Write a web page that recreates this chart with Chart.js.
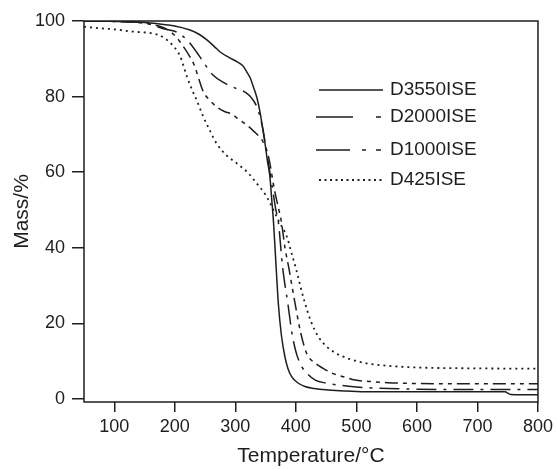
<!DOCTYPE html>
<html>
<head>
<meta charset="utf-8">
<title>TGA curves</title>
<style>
  html, body { margin: 0; padding: 0; background: #fff; }
  #wrap { width: 557px; height: 469px; position: relative; }
</style>
<script src="https://cdn.jsdelivr.net/npm/chart.js"></script>
</head>
<body>
<div id="wrap"><canvas id="tga"></canvas></div>
<script>
// values
const seriesNames = ['D3550ISE', 'D2000ISE', 'D1000ISE', 'D425ISE'];

const tempD3550 = [50, 100, 150, 175, 200, 225, 240, 253, 265, 275, 290, 303, 312, 319, 325, 330, 336, 341, 345, 349, 353, 357, 360, 363, 367, 371, 376, 382, 387, 393, 403, 415, 430, 453, 480, 514, 600, 700, 745, 755, 800];
const massD3550 = [100, 99.9, 99.6, 99.2, 98.7, 97.6, 96.5, 95, 93.3, 91.8, 90.3, 89.2, 88.2, 86.5, 84.8, 82.5, 79.5, 75.7, 71.8, 67.7, 63, 59, 53, 47, 36, 25.4, 17, 11.1, 8, 5.9, 4.3, 3.3, 2.8, 2.4, 2.1, 1.9, 1.9, 1.9, 1.9, 1.2, 1.1];

const tempD2000 = [50, 100, 150, 180, 204, 220, 235, 247, 263, 283, 304, 318, 327, 335, 341, 346, 350, 356, 362, 367, 371, 378, 387, 394, 401, 410, 420, 432, 450, 470, 500, 526, 600, 700, 800];
const massD2000 = [100, 99.9, 99.5, 98, 97, 95, 92, 89.2, 85.7, 83.5, 82, 81, 79.6, 77.5, 74.6, 71, 67, 61, 55, 50, 47, 35, 25, 17, 12, 8.5, 6.5, 5, 4.2, 3.7, 3.2, 2.9, 2.6, 2.5, 2.5];

const tempD1000 = [50, 100, 150, 175, 190, 202, 214, 224, 233, 240, 247, 258, 269, 283, 295, 303, 318, 332, 340, 346, 355, 365, 372, 376, 382, 388, 399, 408, 418, 432, 445, 459, 480, 498, 525, 552, 600, 700, 800];
const massD1000 = [100, 99.9, 99.4, 98.6, 97.5, 95.8, 93.3, 90.8, 88, 84.5, 81.3, 79, 77.3, 76, 75.3, 74.3, 72.6, 70.6, 69.3, 68, 64, 55, 50, 47, 40, 35, 25, 17.5, 12, 9.5, 8.1, 6.9, 5.8, 5, 4.6, 4.3, 4.1, 4.0, 4.0];

const tempD425 = [50, 75, 100, 130, 160, 175, 187, 198, 209, 220, 228, 236, 247, 258, 269, 285, 302, 320, 335, 350, 360, 372, 385, 393, 401, 408, 415, 425, 437, 450, 465, 490, 514, 550, 608, 700, 800];
const massD425 = [98.5, 98.1, 97.8, 97.2, 96.8, 96.2, 95, 93.3, 90.6, 85.3, 82, 79.1, 74.7, 71, 67.6, 64.5, 62.4, 60, 57.1, 54, 51, 47, 43, 38.5, 34, 29.5, 25.4, 20.5, 16.5, 14, 12.2, 10.5, 9.5, 8.8, 8.3, 8.1, 8.0];

const xTicks = [100, 200, 300, 400, 500, 600, 700, 800];
const yTicks = [0, 20, 40, 60, 80, 100];

const temps = [tempD3550, tempD2000, tempD1000, tempD425];
const masses = [massD3550, massD2000, massD1000, massD425];

// line styles
const ink = '#1e1e1e';
const dashes = [[], [20, 7, 3, 7], [13, 5, 4, 5, 4, 5], [2, 4]];
const legendDashes = [[], [37, 23, 5, 100], [34, 12, 4, 10, 5, 100], [2, 3.5]];
const legendY = [90, 117, 150, 180];
const fontFam = "'Liberation Sans', Arial, sans-serif";

const datasets = seriesNames.map((name, i) => ({
    label: name,
    data: temps[i].map((t, j) => ({ x: t, y: masses[i][j] })),
    borderColor: ink,
    borderWidth: i === 3 ? 1.8 : 1.5,
    borderDash: dashes[i],
    pointRadius: 0,
    fill: false,
    cubicInterpolationMode: 'monotone'
}));

const frameAndLegend = {
    id: 'frameAndLegend',
    afterDraw(chart) {
        const { ctx, chartArea: a } = chart;
        ctx.save();
        ctx.strokeStyle = ink;
        ctx.lineWidth = 1.5;
        ctx.strokeRect(a.left, a.top, a.right - a.left, a.bottom - a.top);

        // legend, drawn at the spots it has in the reference
        ctx.font = '19px ' + fontFam;
        ctx.fillStyle = ink;
        ctx.textBaseline = 'middle';
        seriesNames.forEach((name, i) => {
            const y = legendY[i];
            ctx.beginPath();
            ctx.setLineDash(legendDashes[i]);
            ctx.lineWidth = i === 3 ? 1.8 : 1.5;
            ctx.moveTo(i === 0 || i === 3 ? 319 : 316, y);
            ctx.lineTo(383, y);
            ctx.stroke();
            ctx.setLineDash([]);
            ctx.fillText(name, 390, y);
        });
        ctx.restore();
    }
};

new Chart(document.getElementById('tga'), {
    type: 'line',
    data: { datasets: datasets },
    options: {
        responsive: true,
        maintainAspectRatio: false,
        animation: false,
        devicePixelRatio: 1,
        layout: { padding: { top: 21, right: 19, left: 0, bottom: 0 } },
        plugins: { legend: { display: false }, tooltip: { enabled: false } },
        scales: {
            x: {
                type: 'linear',
                min: 50,
                max: 800,
                afterBuildTicks: s => { s.ticks = xTicks.map(v => ({ value: v })); },
                afterFit: s => { s.height = 67; },
                grid: { drawOnChartArea: false, drawTicks: true, tickLength: 10, color: ink, lineWidth: 1.5 },
                border: { display: false },
                ticks: { color: ink, font: { family: fontFam, size: 18 }, padding: 4, maxRotation: 0 },
                title: { display: true, text: 'Temperature/°C', color: ink, font: { family: fontFam, size: 21 }, padding: { top: 0, bottom: 0 } }
            },
            y: {
                min: -0.8,
                max: 100,
                afterBuildTicks: s => { s.ticks = yTicks.map(v => ({ value: v })); },
                afterFit: s => { s.width = 84; },
                grid: { drawOnChartArea: false, drawTicks: true, tickLength: 12, color: ink, lineWidth: 1.5 },
                border: { display: false },
                ticks: { color: ink, font: { family: fontFam, size: 18 }, padding: 7 },
                title: { display: true, text: 'Mass/%', color: ink, font: { family: fontFam, size: 21 }, padding: { top: 10, bottom: 0 } }
            }
        }
    },
    plugins: [frameAndLegend]
});
</script>
</body>
</html>
